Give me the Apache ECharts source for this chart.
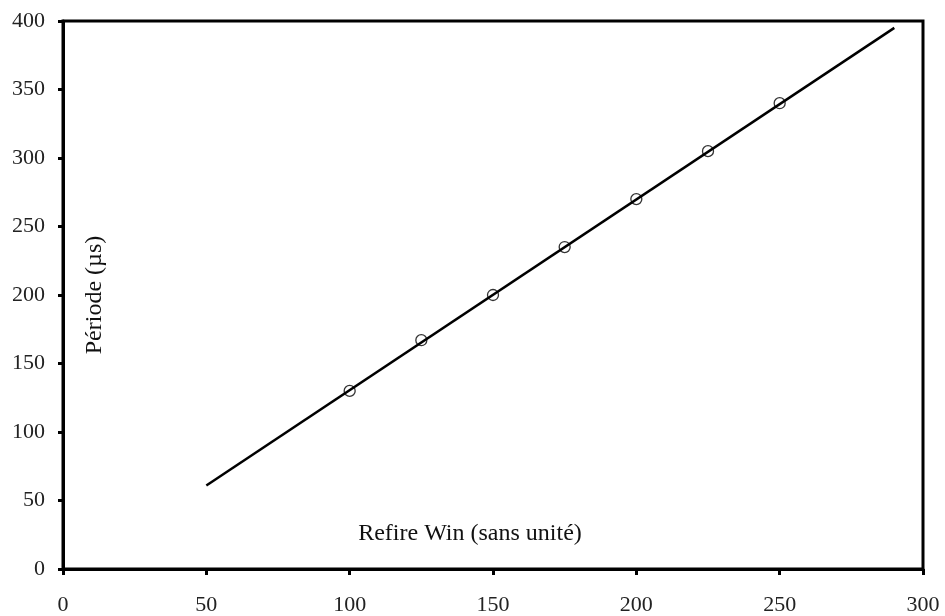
<!DOCTYPE html>
<html><head><meta charset="utf-8">
<script src="https://cdn.jsdelivr.net/npm/echarts@6/dist/echarts.min.js"></script>
<style>html,body{margin:0;padding:0;background:#fff}#c{width:945px;height:616px}</style>
</head><body><div id="c"></div>
<script>
const refireWin = [100, 125, 150, 175, 200, 225, 250];
const periode = [130, 167, 200, 235, 270, 305, 340];
const fitX = [50, 290];
const fitY = [61, 395];
const xTicks = [0, 50, 100, 150, 200, 250, 300];
const yTicks = [0, 50, 100, 150, 200, 250, 300, 350, 400];

const font = "'Liberation Serif', 'DejaVu Serif', serif";
const chart = echarts.init(document.getElementById('c'));
chart.setOption({
  animation: false,
  backgroundColor: '#fff',
  grid: {left: 63, right: 22, top: 21, bottom: 47, show: true, borderColor: '#000', borderWidth: 3},
  xAxis: {
    type: 'value', min: xTicks[0], max: xTicks[xTicks.length-1], interval: 50,
    name: 'Refire Win (sans unité)', nameLocation: 'middle', nameGap: -47,
    nameTextStyle: {fontFamily: font, fontSize: 24, color: '#111', padding: [0, 46, 0, 0]},
    axisLine: {lineStyle: {color: '#000', width: 3}},
    axisTick: {show: true, length: 6, lineStyle: {color: '#000', width: 3}},
    axisLabel: {fontFamily: font, fontSize: 22, color: '#222', margin: 25},
    splitLine: {show: false}
  },
  yAxis: {
    type: 'value', min: yTicks[0], max: yTicks[yTicks.length-1], interval: 50,
    name: 'Période (µs)', nameLocation: 'middle', nameGap: -44, nameRotate: 90,
    nameTextStyle: {fontFamily: font, fontSize: 24, color: '#111'},
    axisLine: {lineStyle: {color: '#000', width: 3}},
    axisTick: {show: true, length: 5, lineStyle: {color: '#000', width: 3}},
    axisLabel: {fontFamily: font, fontSize: 22, color: '#222', margin: 18},
    splitLine: {show: false}
  },
  series: [
    {type: 'line', data: fitX.map((x, i) => [x, fitY[i]]), symbol: 'none',
     lineStyle: {color: '#000', width: 2.5}, z: 2},
    {type: 'scatter', data: refireWin.map((x, i) => [x, periode[i]]), symbol: 'circle', symbolSize: 11,
     itemStyle: {color: 'rgba(255,255,255,0)', borderColor: '#000', borderWidth: 1.3}, z: 3}
  ]
});
</script></body></html>
